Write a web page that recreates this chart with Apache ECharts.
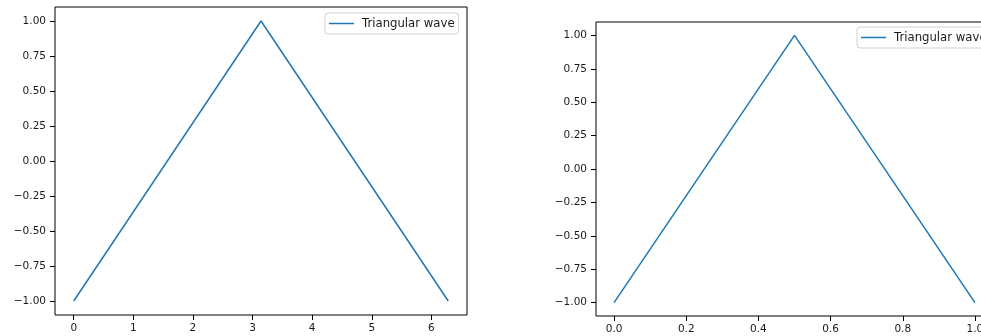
<!DOCTYPE html>
<html>
<head>
<meta charset="utf-8">
<script src="https://cdn.jsdelivr.net/npm/echarts@6/dist/echarts.min.js"></script>
<style>
html,body{margin:0;padding:0;background:#fff;}
#chart{width:981px;height:336px;}
</style>
</head>
<body>
<div id="chart"></div>
<script>
const seriesName = 'Triangular wave';
const leftX = [0, 3.1416, 6.2832];
const leftY = [-1, 1, -1];
const rightX = [0, 0.5, 1];
const rightY = [-1, 1, -1];
const leftXTicks = [0, 1, 2, 3, 4, 5, 6];
const rightXTicks = [0, 0.2, 0.4, 0.6, 0.8, 1.0];
const yTicks = [-1, -0.75, -0.5, -0.25, 0, 0.25, 0.5, 0.75, 1];

const FONT = 'DejaVu Sans';
const FS = 10.5;
const LFS = 11.7;
const TXT = '#1a1a1a';
const LINE = '#1f77b4';

function fmtY(v) { const s = Number(v).toFixed(2); return s.replace('-', '\u2212'); }

function xAxisCfg(idx, min, max, ticks, fmt) {
  return {
    type: 'value', gridIndex: idx, min: min, max: max,
    axisLine: { show: false, onZero: false },
    axisTick: { show: true, length: 5, customValues: ticks, lineStyle: { color: '#000', width: 1 } },
    axisLabel: { customValues: ticks, formatter: fmt, fontFamily: FONT, fontSize: FS, color: TXT, margin: 8 },
    splitLine: { show: false }
  };
}
function yAxisCfg(idx) {
  return {
    type: 'value', gridIndex: idx, min: -1.1, max: 1.1,
    axisLine: { show: false, onZero: false },
    axisTick: { show: true, length: 5, customValues: yTicks, lineStyle: { color: '#000', width: 1 } },
    axisLabel: { customValues: yTicks, formatter: fmtY, fontFamily: FONT, fontSize: FS, color: TXT, margin: 9 },
    splitLine: { show: false }
  };
}
function legendCfg(left, top) {
  return {
    left: left, top: top, data: [seriesName],
    icon: 'rect', itemWidth: 25, itemHeight: 1.5,
    borderColor: '#d0d0d0', borderWidth: 1, borderRadius: 3,
    padding: [4, 4, 4, 4], backgroundColor: '#fff',
    textStyle: { fontFamily: FONT, fontSize: LFS, color: TXT, padding: [0, 0, 0, 3], lineHeight: 13 },
    selectedMode: false
  };
}

const chart = echarts.init(document.getElementById('chart'), null, { renderer: 'canvas' });
chart.setOption({
  animation: false,
  backgroundColor: '#fff',
  grid: [
    { left: 55, top: 7, width: 412, height: 308, show: true, borderColor: '#000', borderWidth: 1, containLabel: false, outerBoundsMode: 'none' },
    { left: 596, top: 22, width: 397, height: 294, show: true, borderColor: '#000', borderWidth: 1, containLabel: false, outerBoundsMode: 'none' }
  ],
  xAxis: [
    xAxisCfg(0, -0.3142, 6.5973, leftXTicks, v => String(Math.round(v))),
    xAxisCfg(1, -0.05, 1.05, rightXTicks, v => Number(v).toFixed(1))
  ],
  yAxis: [yAxisCfg(0), yAxisCfg(1)],
  legend: [legendCfg(325, 13), legendCfg(857, 27)],
  series: [
    { name: seriesName, type: 'line', xAxisIndex: 0, yAxisIndex: 0, showSymbol: false, symbol: 'none',
      data: leftX.map((x, i) => [x, leftY[i]]), lineStyle: { color: LINE, width: 1.5 }, itemStyle: { color: LINE } },
    { name: seriesName, type: 'line', xAxisIndex: 1, yAxisIndex: 1, showSymbol: false, symbol: 'none',
      data: rightX.map((x, i) => [x, rightY[i]]), lineStyle: { color: LINE, width: 1.5 }, itemStyle: { color: LINE } }
  ]
});
</script>
</body>
</html>
